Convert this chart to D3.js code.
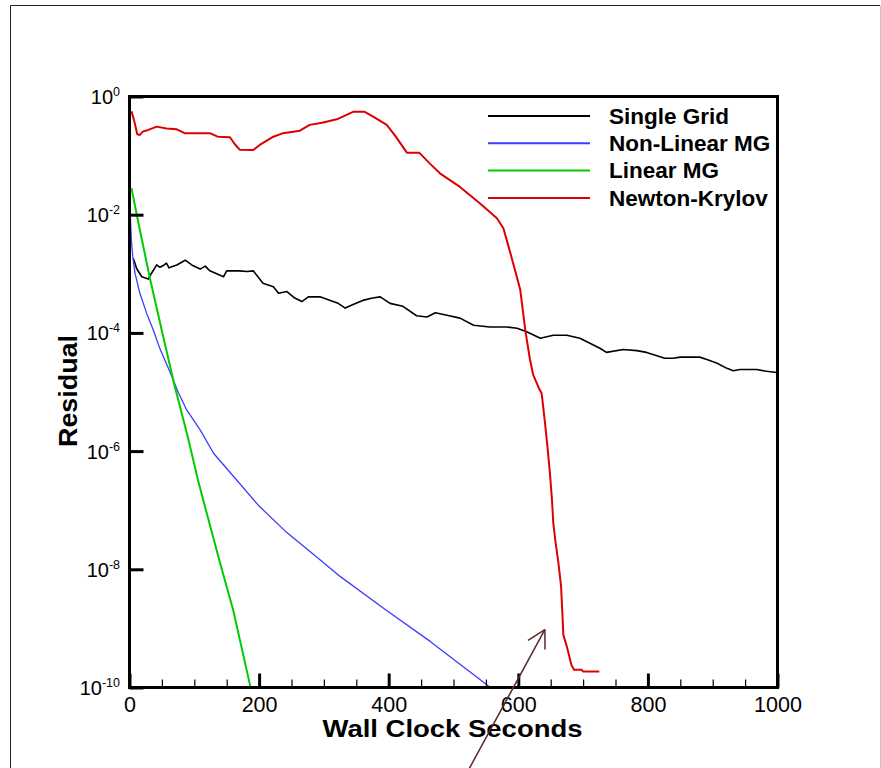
<!DOCTYPE html>
<html>
<head>
<meta charset="utf-8">
<script src="https://cdn.jsdelivr.net/npm/d3@7/dist/d3.min.js"></script>
<style>
  html, body { margin: 0; padding: 0; background: #fff; }
  svg { display: block; }
  text { font-family: "Liberation Sans", Arial, Helvetica, sans-serif; fill: #000; }
</style>
</head>
<body>
<svg id="chart" width="881" height="768"></svg>
<script>
// Convergence history: wall clock time (s) vs log10(residual)
const seriesNames = ["Single Grid", "Non-Linear MG", "Linear MG", "Newton-Krylov"];
const seriesColors = ["#000000", "#3c3cff", "#00cc00", "#dd0000"];
const seriesWidths = [1.6, 1.3, 2, 2];

const singleGridT = [6, 11, 19, 29, 34, 42, 47, 52, 57, 61, 65, 73, 86, 96, 109, 117, 124, 145, 150, 170, 181, 191, 206, 222, 230, 243, 255, 266, 276, 294, 310, 322, 333, 345, 360, 375, 387, 402, 422, 443, 459, 472, 490, 510, 531, 556, 582, 598, 613, 634, 654, 675, 695, 726, 736, 762, 783, 798, 826, 839, 850, 880, 891, 906, 922, 932, 942, 968, 983, 999];
const singleGridLog = [-2.74, -2.91, -3.05, -3.09, -2.99, -2.85, -2.89, -2.86, -2.82, -2.90, -2.88, -2.85, -2.77, -2.85, -2.92, -2.87, -2.95, -3.05, -2.95, -2.95, -2.96, -2.95, -3.16, -3.22, -3.33, -3.30, -3.41, -3.47, -3.39, -3.39, -3.45, -3.50, -3.58, -3.52, -3.45, -3.41, -3.39, -3.50, -3.55, -3.71, -3.73, -3.66, -3.70, -3.75, -3.87, -3.90, -3.90, -3.92, -3.98, -4.09, -4.04, -4.04, -4.09, -4.26, -4.33, -4.28, -4.30, -4.33, -4.43, -4.43, -4.41, -4.41, -4.45, -4.51, -4.60, -4.64, -4.62, -4.62, -4.65, -4.67];

const nonLinearT = [1, 3, 5, 8.5, 16, 26.5, 36.7, 47, 62.5, 75, 88, 109, 130, 163, 200, 240, 294, 325, 392, 464, 556, 575];
const nonLinearLog = [-1.95, -2.45, -2.70, -2.99, -3.33, -3.67, -3.95, -4.27, -4.66, -5.00, -5.30, -5.64, -6.04, -6.46, -6.93, -7.35, -7.84, -8.12, -8.66, -9.22, -9.99, -10.15];

const linearT = [3, 16, 32, 52, 70, 90, 107, 140, 160, 186, 192];
const linearLog = [-1.55, -2.26, -3.10, -4.06, -4.91, -5.76, -6.55, -7.90, -8.69, -9.96, -10.25];

const newtonT = [3, 7, 12, 16, 21, 28, 42, 57, 73, 85, 124, 136, 155, 162, 170, 191, 201, 222, 237, 263, 278, 297, 320, 345, 363, 376, 397, 411, 428, 447, 464, 479, 510, 541, 567, 577, 585, 597, 603, 611, 618, 623, 632, 636, 641, 645, 649, 652, 654, 657, 662, 666, 668, 669.5, 675, 682, 686, 698, 700, 725];
const newtonLog = [-0.25, -0.40, -0.64, -0.65, -0.59, -0.57, -0.51, -0.54, -0.555, -0.62, -0.62, -0.68, -0.69, -0.80, -0.90, -0.905, -0.82, -0.68, -0.62, -0.578, -0.48, -0.443, -0.386, -0.26, -0.26, -0.34, -0.48, -0.68, -0.95, -0.95, -1.14, -1.30, -1.53, -1.81, -2.06, -2.23, -2.54, -3.02, -3.27, -3.97, -4.45, -4.71, -4.94, -5.02, -5.50, -5.93, -6.40, -6.83, -7.22, -7.50, -7.90, -8.29, -8.74, -9.11, -9.31, -9.62, -9.70, -9.70, -9.73, -9.73];

const xMajorTicks = [0, 200, 400, 600, 800, 1000];
const xMinorTicks = d3.range(0, 1001, 50).filter(v => v % 200 !== 0);
const yTickExponents = [0, -2, -4, -6, -8, -10];

// Annotation arrow (tail and head in data units: seconds, log10 residual)
const arrowTail = [514.5, -11.57];
const arrowHead = [641, -9.02];

(function draw() {
  const svg = d3.select("#chart");
  const pLeft = 129.5, pRight = 777.5, pTop = 96.5, pBottom = 687.5;

  const x = d3.scaleLinear().domain([0, 1000]).range([pLeft, pRight]);
  const y = d3.scaleLog().domain([1e-10, 1]).range([pBottom, pTop]);

  // outer page frame
  svg.append("line").attr("x1", 10.5).attr("y1", 5.5).attr("x2", 880).attr("y2", 5.5)
    .attr("stroke", "#222").attr("stroke-width", 1);
  svg.append("line").attr("x1", 10.5).attr("y1", 5.5).attr("x2", 10.5).attr("y2", 768)
    .attr("stroke", "#222").attr("stroke-width", 1);
  svg.append("line").attr("x1", 880.5).attr("y1", 5.5).attr("x2", 880.5).attr("y2", 768)
    .attr("stroke", "#c8c8c8").attr("stroke-width", 1);

  svg.append("clipPath").attr("id", "plotClip")
    .append("rect").attr("x", pLeft).attr("y", pTop)
    .attr("width", pRight - pLeft).attr("height", pBottom - pTop);

  // series
  const series = [
    { t: singleGridT, v: singleGridLog },
    { t: nonLinearT, v: nonLinearLog },
    { t: linearT, v: linearLog },
    { t: newtonT, v: newtonLog }
  ];
  const line = d3.line().x(d => x(d[0])).y(d => y(Math.pow(10, d[1])));
  const plot = svg.append("g").attr("clip-path", "url(#plotClip)");
  series.forEach((s, i) => {
    const pts = s.t.map((t, k) => [t, s.v[k]]);
    plot.append("path").datum(pts)
      .attr("d", line)
      .attr("fill", "none")
      .attr("stroke", seriesColors[i])
      .attr("stroke-width", seriesWidths[i])
      .attr("stroke-linejoin", "round");
  });

  // x axis: major and minor inward ticks
  const xMajor = svg.append("g").attr("transform", `translate(0,${pBottom})`)
    .call(d3.axisBottom(x).tickValues(xMajorTicks).tickSize(-14).tickFormat(d3.format("d")));
  xMajor.select(".domain").remove();
  xMajor.selectAll(".tick line").attr("stroke", "#000").attr("stroke-width", 3);
  xMajor.selectAll(".tick text").attr("font-size", 21.5).attr("dy", null).attr("y", 24)
    .attr("fill", "#000");

  const xMinor = svg.append("g").attr("transform", `translate(0,${pBottom})`)
    .call(d3.axisBottom(x).tickValues(xMinorTicks).tickSize(-8).tickFormat(""));
  xMinor.select(".domain").remove();
  xMinor.selectAll(".tick line").attr("stroke", "#000").attr("stroke-width", 1.2);

  // y axis: decades with superscript exponents
  const yAxis = svg.append("g").attr("transform", `translate(${pLeft},0)`)
    .call(d3.axisLeft(y).tickValues(yTickExponents.map(e => Math.pow(10, e))).tickSize(-14).tickFormat(""));
  yAxis.select(".domain").remove();
  yAxis.selectAll(".tick line").attr("stroke", "#000").attr("stroke-width", 3);
  yAxis.selectAll(".tick").each(function(d) {
    const e = Math.round(Math.log10(d));
    const t = d3.select(this).append("text")
      .attr("x", -9.5).attr("y", 7).attr("text-anchor", "end")
      .attr("font-size", 20).attr("fill", "#000");
    t.append("tspan").text("10");
    t.append("tspan").attr("font-size", 12.5).attr("dy", -8).text(String(e));
  });

  // plot frame
  svg.append("rect").attr("x", pLeft).attr("y", pTop)
    .attr("width", pRight - pLeft).attr("height", pBottom - pTop)
    .attr("fill", "none").attr("stroke", "#000").attr("stroke-width", 3);

  // axis titles
  svg.append("text").attr("x", (pLeft + pRight) / 2 - 1).attr("y", 737)
    .attr("text-anchor", "middle").attr("font-size", 23).attr("font-weight", "bold")
    .attr("textLength", 260).attr("lengthAdjust", "spacingAndGlyphs")
    .text("Wall Clock Seconds");
  svg.append("text").attr("transform", "translate(76.5,391) rotate(-90)")
    .attr("text-anchor", "middle").attr("font-size", 25).attr("font-weight", "bold")
    .attr("textLength", 112).attr("lengthAdjust", "spacingAndGlyphs")
    .text("Residual");

  // legend
  const legend = svg.append("g");
  seriesNames.forEach((name, i) => {
    const ly = 116 + i * 27.3;
    legend.append("line").attr("x1", 488).attr("x2", 590).attr("y1", ly).attr("y2", ly)
      .attr("stroke", seriesColors[i]).attr("stroke-width", 2);
    legend.append("text").attr("x", 609).attr("y", ly + 7.7)
      .attr("font-size", 22.5).attr("font-weight", "bold").text(name);
  });

  // annotation arrow
  const ax1 = x(arrowTail[0]), ay1 = y(Math.pow(10, arrowTail[1]));
  const ax2 = x(arrowHead[0]), ay2 = y(Math.pow(10, arrowHead[1]));
  const ang = Math.atan2(ay1 - ay2, ax1 - ax2);
  const headLen = 20, spread = 29 * Math.PI / 180;
  const arrowColor = "#5a2828";
  svg.append("line").attr("x1", ax1).attr("y1", ay1).attr("x2", ax2).attr("y2", ay2)
    .attr("stroke", arrowColor).attr("stroke-width", 1.5);
  [ang - spread, ang + spread].forEach(a => {
    svg.append("line").attr("x1", ax2).attr("y1", ay2)
      .attr("x2", ax2 + headLen * Math.cos(a)).attr("y2", ay2 + headLen * Math.sin(a))
      .attr("stroke", arrowColor).attr("stroke-width", 1.5);
  });
})();
</script>
</body>
</html>
